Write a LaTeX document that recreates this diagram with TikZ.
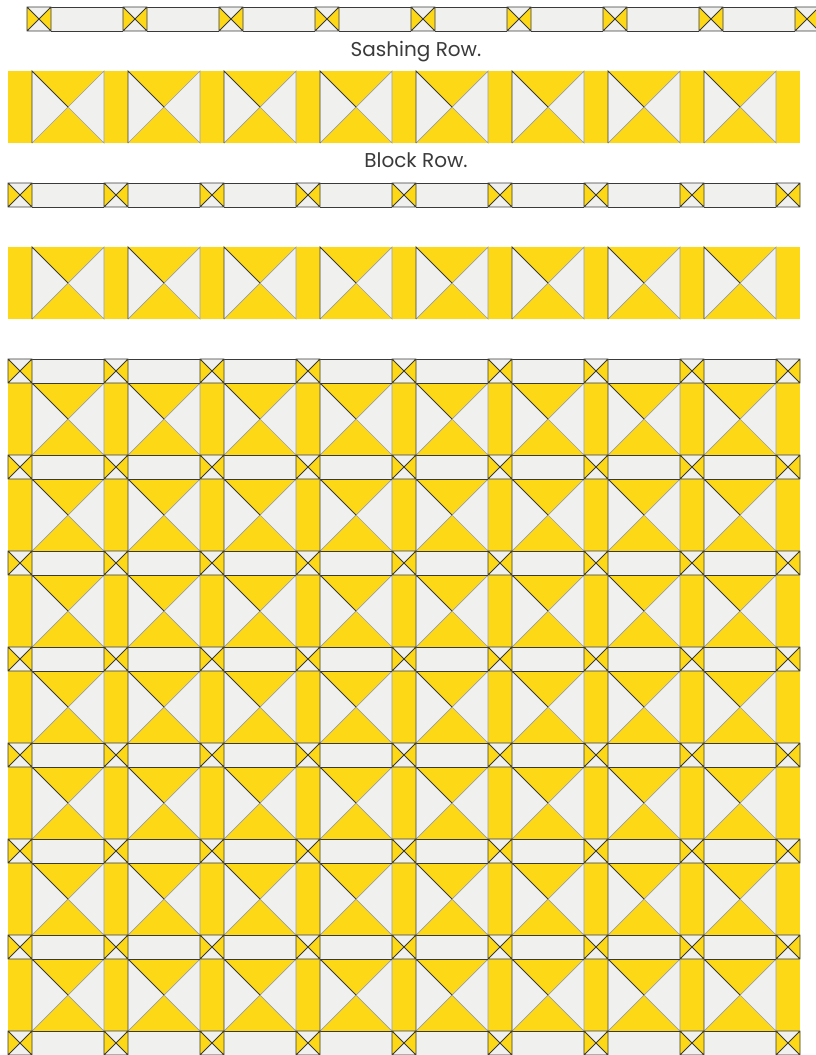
\documentclass[tikz,border=0pt]{standalone}
\usepackage{fontspec}
\setmainfont{Poppins}
\definecolor{quiltyellow}{HTML}{FDD817}
\definecolor{quiltwhite}{HTML}{F0F0EE}
\definecolor{seamdark}{HTML}{3A3A3A}
\definecolor{seamlight}{HTML}{9C9C9C}
\begin{document}
\begin{tikzpicture}[
    x=1pt, y=-1pt,
    seam/.style={draw=seamdark, line width=0.9pt},
    softseam/.style={draw=seamlight, line width=0.7pt},
    rowlabel/.style={font=\fontsize{20}{22}\selectfont, text=seamdark, anchor=base},
    sashsquare/.pic={
        \fill[quiltwhite] (0,0) rectangle (24,24);
        \fill[quiltyellow] (0,0) -- (12,12) -- (0,24) -- cycle (24,0) -- (12,12) -- (24,24) -- cycle;
        \draw[seam] (0,0) rectangle (24,24) (0,0) -- (24,24) (24,0) -- (0,24);
    },
    sashbar/.pic={
        \fill[quiltwhite] (0,0) rectangle (72,24);
        \draw[seam] (0,0) -- (72,0) (0,24) -- (72,24);
    },
    strip/.pic={\fill[quiltyellow] (0,0) rectangle (24,72);},
    hourglass/.pic={
        \fill[quiltyellow] (0,0) rectangle (72,72);
        \fill[quiltwhite] (0,0) -- (36,36) -- (0,72) -- cycle (72,0) -- (36,36) -- (72,72) -- cycle;
        \draw[softseam] (0,72) -- (72,0) -- (72,72) -- (36,36);
        \draw[seam] (0,72) -- (0,0) -- (36,36);
    },
    sashrow/.pic={
        \foreach \k in {0,...,7} \pic at (96*\k+24,0) {sashbar};
        \foreach \k in {0,...,8} \pic at (96*\k,0) {sashsquare};
    },
    blockrow/.pic={
        \foreach \k in {0,...,8} \pic at (96*\k,0) {strip};
        \foreach \k in {0,...,7} \pic at (96*\k+24,0) {hourglass};
    },
]
\useasboundingbox (0,0) rectangle (816,1055);

% Sashing row sample
\pic at (27,7) {sashrow};
\node[rowlabel] (sashlabel) at (416,56) {Sashing Row.};

% Block row sample
\pic at (8,71) {blockrow};
\node[rowlabel] (blocklabel) at (416,167) {Block Row.};

% Pair of rows
\pic at (8,247) {blockrow};
\pic at (8,183) {sashrow};

% Whole quilt
\foreach \r in {0,...,6} \pic at (8,383+96*\r) {blockrow};
\foreach \r in {0,...,7} \pic at (8,359+96*\r) {sashrow};
\end{tikzpicture}
\end{document}
